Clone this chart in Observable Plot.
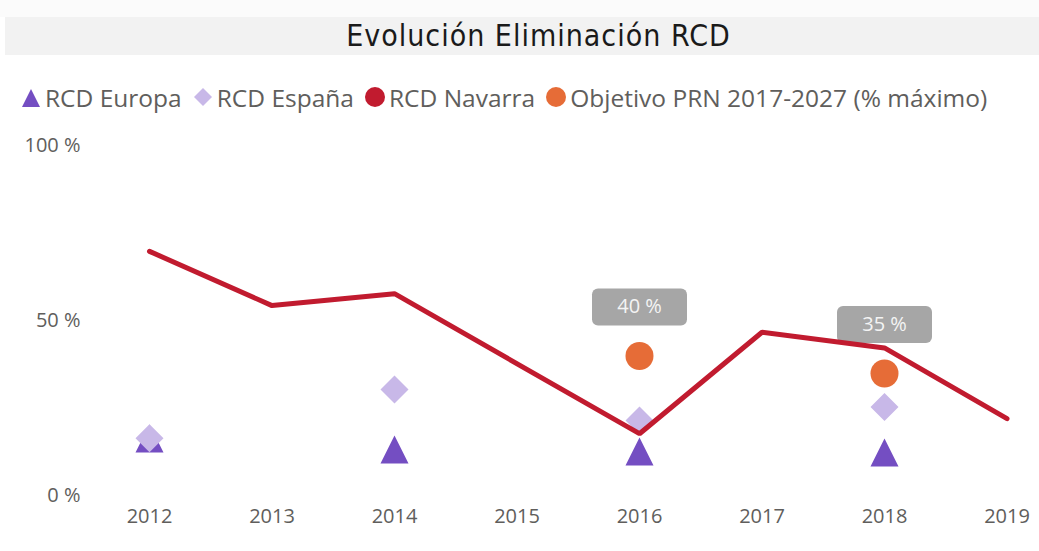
<!DOCTYPE html>
<html>
<head>
<meta charset="utf-8">
<script src="https://cdn.jsdelivr.net/npm/d3@7"></script>
<script src="https://cdn.jsdelivr.net/npm/@observablehq/plot@0.6"></script>
<style>
  html, body { margin: 0; padding: 0; background: #fff; width: 1039px; height: 551px; overflow: hidden; }
  #top { height: 17px; background: #fbfbfb; }
  #title { height: 38px; margin-left: 5px; background: #f2f2f2; box-sizing: border-box; padding-left: 33px;
           text-align: center; font-family: "DejaVu Sans Condensed", "DejaVu Sans", sans-serif; font-size: 30px;
           letter-spacing: 1px; line-height: 38px; color: #1a1a1a; }
  #legend { height: 65px; box-sizing: border-box; padding-top: 20px; padding-left: 21px; display: flex; align-items: center;
            font-family: "Segoe UI", "Open Sans", sans-serif; font-size: 24.5px; color: #605e5c; line-height: 26px; }
  .item { display: flex; align-items: center; margin-right: 11px; }
  .item svg { margin-right: 3px; }
</style>
</head>
<body>
<div id="top"></div>
<div id="title">Evolución Eliminación RCD</div>
<div id="legend"></div>
<div id="chart"></div>
<script>
const seriesNames = ["RCD Europa", "RCD España", "RCD Navarra", "Objetivo PRN 2017-2027 (% máximo)"];
const seriesColors = ["#744ec2", "#c8b8e8", "#c11b2f", "#e66c37"];

const xTicks = [2012, 2013, 2014, 2015, 2016, 2017, 2018, 2019];
const yTicks = [0, 50, 100];

const navarraYears = [2012, 2013, 2014, 2016, 2017, 2018, 2019];
const navarra = [69.9, 54.4, 57.8, 17.8, 46.8, 42.3, 22.1];

const compYears = [2012, 2014, 2016, 2018];
const europa = [16.4, 13.3, 12.7, 12.4];
const espana = [16.5, 30.4, 21.6, 25.4];

const objetivoYears = [2016, 2018];
const objetivo = [40, 35];

const navarraData = navarraYears.map((y, i) => ({year: y, value: navarra[i]}));
const europaData = compYears.map((y, i) => ({year: y, value: europa[i]}));
const espanaData = compYears.map((y, i) => ({year: y, value: espana[i]}));
const objetivoData = objetivoYears.map((y, i) => ({year: y, value: objetivo[i]}));

// custom symbols
const triangle = { draw(ctx, size) { const r = Math.sqrt(size / Math.PI); ctx.moveTo(0, -r); ctx.lineTo(r, r); ctx.lineTo(-r, r); ctx.closePath(); } };
const diamond = { draw(ctx, size) { const r = Math.sqrt(size / Math.PI); ctx.moveTo(0, -r); ctx.lineTo(r, 0); ctx.lineTo(0, r); ctx.lineTo(-r, 0); ctx.closePath(); } };
const roundBox = { draw(ctx) { const w = 47.5, h = 18.5, c = 6;
  ctx.moveTo(-w + c, -h); ctx.lineTo(w - c, -h); ctx.arcTo(w, -h, w, -h + c, c); ctx.lineTo(w, h - c); ctx.arcTo(w, h, w - c, h, c);
  ctx.lineTo(-w + c, h); ctx.arcTo(-w, h, -w, h - c, c); ctx.lineTo(-w, -h + c); ctx.arcTo(-w, -h, -w + c, -h, c); ctx.closePath(); } };

// legend
const legendShapes = [
  '<polygon points="1,20 19,20 10,2"/>',
  '<polygon points="10,1 19,10 10,19 1,10"/>',
  '<circle cx="10" cy="10" r="10"/>',
  '<circle cx="10" cy="10" r="10"/>'
];
const legend = document.getElementById("legend");
seriesNames.forEach((n, i) => {
  const d = document.createElement("div");
  d.className = "item";
  d.innerHTML = `<svg width="21" height="21" viewBox="0 0 21 21" fill="${seriesColors[i]}">${legendShapes[i]}</svg><span>${n}</span>`;
  legend.appendChild(d);
});

const plot = Plot.plot({
  width: 1039,
  height: 431,
  marginTop: 25.5,
  marginBottom: 55.5,
  marginLeft: 149,
  marginRight: 32.5,
  style: { fontFamily: '"Segoe UI", "Open Sans", sans-serif', fontSize: "20px", color: "#605e5c", background: "transparent" },
  x: { domain: [2012, 2019], ticks: xTicks, tickFormat: d => String(d), tickSize: 0, tickPadding: 13, label: null },
  y: { domain: [0, 100], ticks: yTicks, tickFormat: d => d + " %", tickSize: 0, tickPadding: 69, label: null },
  marks: [
    Plot.dot(europaData, { x: "year", y: "value", r: 14, symbol: triangle, fill: seriesColors[0] }),
    Plot.dot(espanaData, { x: "year", y: "value", r: 14, symbol: diamond, fill: seriesColors[1] }),
    Plot.dot(objetivoData, { x: "year", y: "value", r: 14, fill: seriesColors[3] }),
    Plot.dot(objetivoData, { x: "year", y: "value", r: 14, symbol: roundBox, fill: "#a6a6a6", dy: -49 }),
    Plot.text(objetivoData, { x: "year", y: "value", text: d => d.value + " %", dy: -49, fill: "#f4f4f4", fontSize: 20 }),
    Plot.line(navarraData, { x: "year", y: "value", stroke: seriesColors[2], strokeWidth: 5, strokeLinejoin: "miter", strokeLinecap: "round" })
  ]
});
document.getElementById("chart").appendChild(plot);
</script>
</body>
</html>
